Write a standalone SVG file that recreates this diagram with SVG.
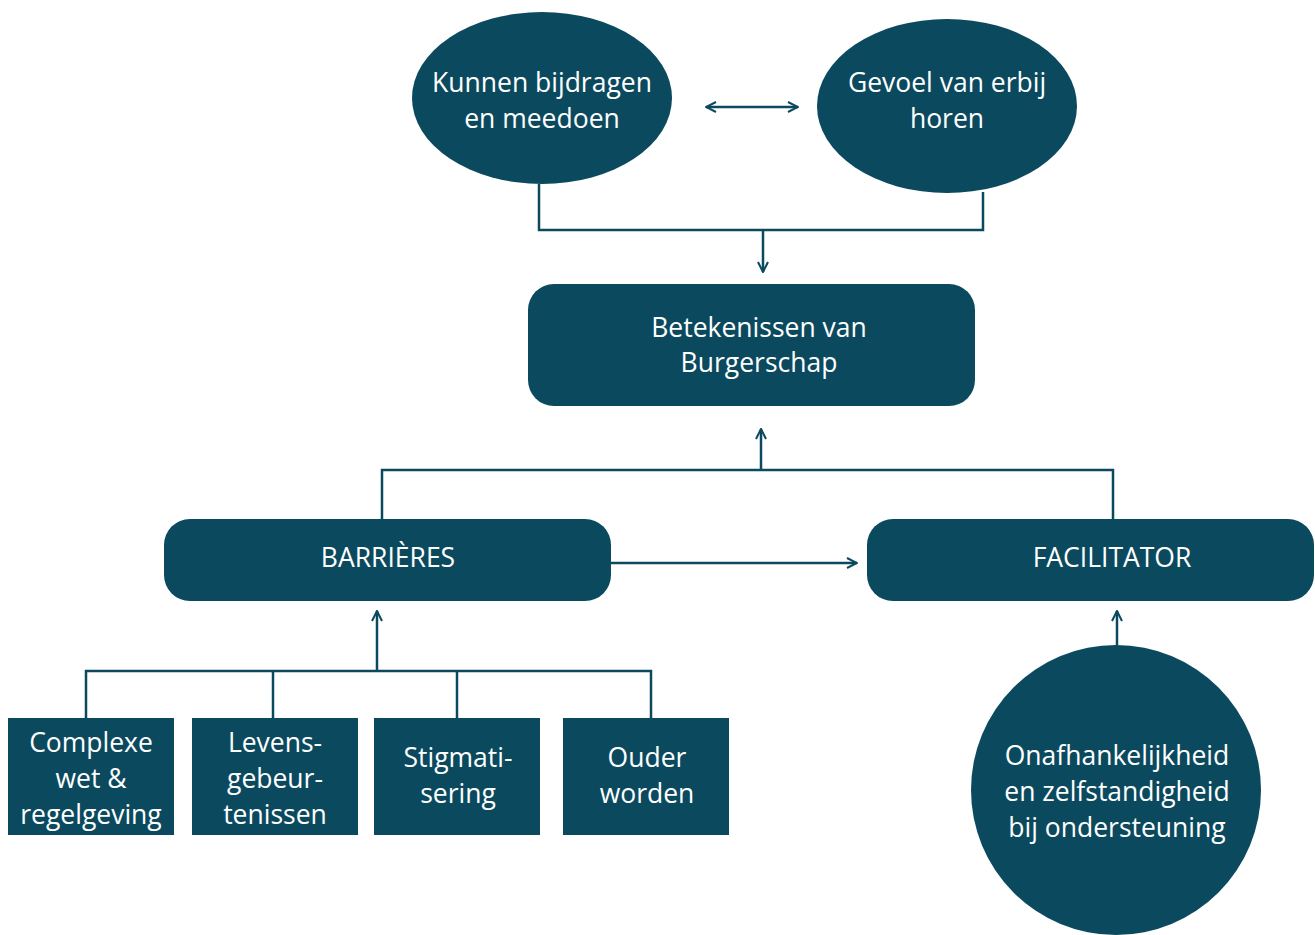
<svg xmlns="http://www.w3.org/2000/svg" width="1315" height="935" viewBox="0 0 1315 935">
<defs>
<style>
.n{fill:#0b4a5e}
.t{fill:#ffffff;font-family:"Open Sans","Liberation Sans",sans-serif;font-size:26.5px;text-anchor:middle}
.c{fill:none;stroke:#0b4a5e;stroke-width:2.5}
</style>
<marker id="ah" viewBox="0 0 12 12" refX="11" refY="6" markerWidth="12" markerHeight="12" markerUnits="userSpaceOnUse" orient="auto-start-reverse">
<path d="M1,1 L11,6 L1,11" fill="none" stroke="#0b4a5e" stroke-width="2"/>
</marker>
</defs>
<rect width="1315" height="935" fill="#ffffff"/>
<g id="connectors">
<line class="c" x1="706" y1="107" x2="798" y2="107" marker-start="url(#ah)" marker-end="url(#ah)"/>
<polyline class="c" points="539,184 539,230 983,230 983,192"/>
<line class="c" x1="763" y1="230" x2="763" y2="272" marker-end="url(#ah)"/>
<polyline class="c" points="382,520 382,470 1113,470 1113,520"/>
<line class="c" x1="761" y1="470" x2="761" y2="429" marker-end="url(#ah)"/>
<line class="c" x1="611" y1="563" x2="857" y2="563" marker-end="url(#ah)"/>
<polyline class="c" points="86,718 86,671 651,671 651,718"/>
<line class="c" x1="273" y1="671" x2="273" y2="718"/>
<line class="c" x1="457" y1="671" x2="457" y2="718"/>
<line class="c" x1="377" y1="671" x2="377" y2="611" marker-end="url(#ah)"/>
<line class="c" x1="1117" y1="645" x2="1117" y2="611" marker-end="url(#ah)"/>
</g>
<g id="kunnen">
<ellipse class="n" cx="542" cy="98" rx="130" ry="86"/>
<text class="t" x="542" y="83" dy="0.35em">Kunnen bijdragen</text>
<text class="t" x="542" y="119" dy="0.35em">en meedoen</text>
</g>
<g id="gevoel">
<ellipse class="n" cx="947" cy="106" rx="130" ry="87"/>
<text class="t" x="947" y="83" dy="0.35em">Gevoel van erbij</text>
<text class="t" x="947" y="119" dy="0.35em">horen</text>
</g>
<g id="betekenissen">
<rect class="n" x="528" y="284" width="447" height="122" rx="26"/>
<text class="t" x="759" y="328" dy="0.35em">Betekenissen van</text>
<text class="t" x="759" y="363" dy="0.35em">Burgerschap</text>
</g>
<g id="barrieres">
<rect class="n" x="164" y="519" width="447" height="82" rx="26"/>
<text class="t" x="388" y="558" dy="0.35em">BARRIÈRES</text>
</g>
<g id="facilitator">
<rect class="n" x="867" y="519" width="447" height="82" rx="26"/>
<text class="t" x="1112" y="558" dy="0.35em">FACILITATOR</text>
</g>
<g id="complexe">
<rect class="n" x="8" y="718" width="166" height="117"/>
<text class="t" x="91" y="743" dy="0.35em">Complexe</text>
<text class="t" x="91" y="779" dy="0.35em">wet &amp;</text>
<text class="t" x="91" y="815" dy="0.35em">regelgeving</text>
</g>
<g id="levens">
<rect class="n" x="192" y="718" width="166" height="117"/>
<text class="t" x="275" y="743" dy="0.35em">Levens-</text>
<text class="t" x="275" y="779" dy="0.35em">gebeur-</text>
<text class="t" x="275" y="815" dy="0.35em">tenissen</text>
</g>
<g id="stigmatisering">
<rect class="n" x="374" y="718" width="166" height="117"/>
<text class="t" x="458" y="758" dy="0.35em">Stigmati-</text>
<text class="t" x="458" y="794" dy="0.35em">sering</text>
</g>
<g id="ouder">
<rect class="n" x="563" y="718" width="166" height="117"/>
<text class="t" x="647" y="758" dy="0.35em">Ouder</text>
<text class="t" x="647" y="794" dy="0.35em">worden</text>
</g>
<g id="onafhankelijkheid">
<circle class="n" cx="1116" cy="790" r="145"/>
<text class="t" x="1117" y="756" dy="0.35em">Onafhankelijkheid</text>
<text class="t" x="1117" y="792" dy="0.35em">en zelfstandigheid</text>
<text class="t" x="1117" y="828" dy="0.35em">bij ondersteuning</text>
</g>
</svg>
